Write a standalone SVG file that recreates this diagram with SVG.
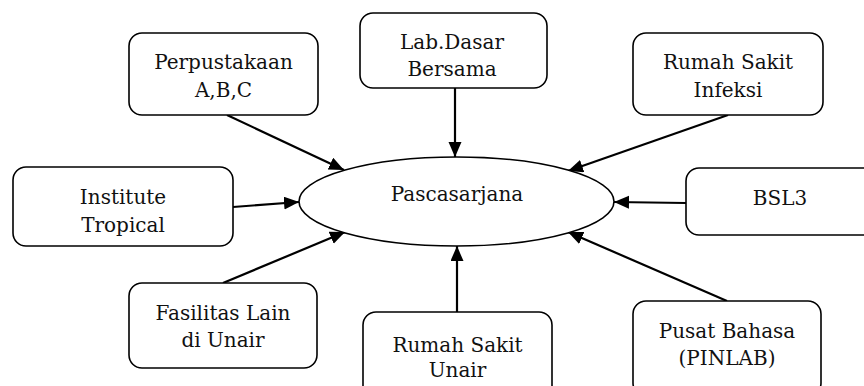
<svg xmlns="http://www.w3.org/2000/svg" width="864" height="386" viewBox="0 0 864 386">
<style>
.box{fill:#fff;stroke:#000;stroke-width:1.6}
.lbl{font-family:"DejaVu Serif","Liberation Serif",serif;font-size:20px;fill:#111;text-anchor:middle}
.conn{stroke:#000;stroke-width:2.2;fill:none;marker-end:url(#ah)}
</style>
<defs>
<marker id="ah" markerUnits="userSpaceOnUse" markerWidth="16" markerHeight="14" refX="15" refY="6.5" orient="auto">
<path d="M0,0 L15,6.5 L0,13 z" fill="#000"/>
</marker>
</defs>
<rect width="864" height="386" fill="#fff"/>
<g id="connectors">
<line class="conn" x1="227" y1="115" x2="344" y2="170"/>
<line class="conn" x1="455" y1="88" x2="455" y2="157"/>
<line class="conn" x1="728" y1="115" x2="568" y2="171"/>
<line class="conn" x1="233" y1="207" x2="299" y2="202"/>
<line class="conn" x1="686" y1="203" x2="614" y2="202"/>
<line class="conn" x1="223" y1="283" x2="345" y2="232"/>
<line class="conn" x1="457" y1="312" x2="457" y2="246"/>
<line class="conn" x1="727" y1="301" x2="568" y2="232"/>
</g>
<g id="pascasarjana">
<ellipse class="box" cx="456.5" cy="201.5" rx="157.5" ry="44.5"/>
<text class="lbl" x="457" y="201">Pascasarjana</text>
</g>
<g id="perpustakaan">
<rect class="box" x="129" y="33" width="189" height="82" rx="13"/>
<text class="lbl" x="223.5" y="69">Perpustakaan</text>
<text class="lbl" x="223.5" y="97">A,B,C</text>
</g>
<g id="labdasar">
<rect class="box" x="360" y="13" width="187" height="75" rx="13"/>
<text class="lbl" x="452" y="49">Lab.Dasar</text>
<text class="lbl" x="452" y="76">Bersama</text>
</g>
<g id="rsinfeksi">
<rect class="box" x="633" y="33" width="190" height="82" rx="13"/>
<text class="lbl" x="728" y="69">Rumah Sakit</text>
<text class="lbl" x="728" y="97">Infeksi</text>
</g>
<g id="institute">
<rect class="box" x="13" y="167" width="220" height="79" rx="13"/>
<text class="lbl" x="123" y="204">Institute</text>
<text class="lbl" x="123" y="232">Tropical</text>
</g>
<g id="bsl3">
<rect class="box" x="686" y="168" width="192" height="67" rx="13"/>
<text class="lbl" x="780" y="205">BSL3</text>
</g>
<g id="fasilitas">
<rect class="box" x="129" y="283" width="188" height="85" rx="13"/>
<text class="lbl" x="223" y="320">Fasilitas Lain</text>
<text class="lbl" x="223" y="347">di Unair</text>
</g>
<g id="rsunair">
<rect class="box" x="363" y="312" width="189" height="90" rx="13"/>
<text class="lbl" x="457.5" y="352">Rumah Sakit</text>
<text class="lbl" x="457.5" y="377">Unair</text>
</g>
<g id="pusatbahasa">
<rect class="box" x="633" y="301" width="188" height="95" rx="13"/>
<text class="lbl" x="727" y="338">Pusat Bahasa</text>
<text class="lbl" x="727" y="365">(PINLAB)</text>
</g>
</svg>
